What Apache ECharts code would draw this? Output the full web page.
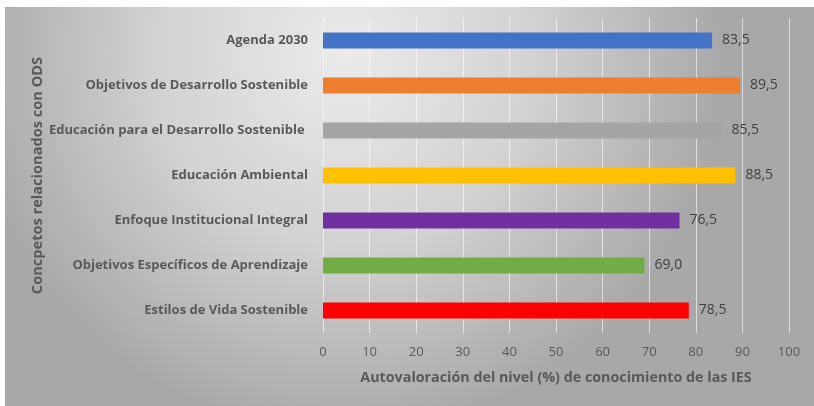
<!DOCTYPE html>
<html>
<head>
<meta charset="utf-8">
<script src="https://cdn.jsdelivr.net/npm/echarts@6/dist/echarts.min.js"></script>
<style>
  html, body { margin: 0; padding: 0; background: #fff; }
  #chart { position: absolute; left: 5px; top: 7px; width: 809px; height: 399px; }
</style>
</head>
<body>
<div id="chart"></div>
<script>
const categories = [
  "Agenda 2030",
  "Objetivos de Desarrollo Sostenible",
  "Educación para el Desarrollo Sostenible ",
  "Educación Ambiental",
  "Enfoque Institucional Integral",
  "Objetivos Específicos de Aprendizaje",
  "Estilos de Vida Sostenible",
];
const values = [83.5, 89.5, 85.5, 88.5, 76.5, 69.0, 78.5];
const colors = ["#4472C4", "#ED7D31", "#A5A5A5", "#FFC000", "#7030A0", "#70AD47", "#FF0000"];
const xTicks = [0, 10, 20, 30, 40, 50, 60, 70, 80, 90, 100];

const font = "'Open Sans', 'Noto Sans', sans-serif";
const chart = echarts.init(document.getElementById("chart"));

const option = {
  backgroundColor: new echarts.graphic.RadialGradient(0.42, 0.12, 0.95, [
    { offset: 0, color: "#ebebeb" },
    { offset: 0.5, color: "#d2d2d2" },
    { offset: 1, color: "#a8a8a8" },
  ]),
  animation: false,
  textStyle: { fontFamily: font },
  grid: { left: 318, right: 25, top: 11, bottom: 73 },
  xAxis: {
    type: "value",
    min: 0,
    max: 100,
    interval: 10,
    name: "Autovaloración del nivel (%) de conocimiento de las IES",
    nameLocation: "middle",
    nameGap: 38,
    nameMoveOverlap: false,
    nameTextStyle: { fontSize: 14.3, fontWeight: "bold", color: "#595959", fontFamily: font },
    axisLine: { show: false },
    axisTick: { show: false },
    axisLabel: {
      color: "#595959",
      fontSize: 13,
      margin: 13,
      fontFamily: font,
      formatter: (v) => (xTicks.includes(v) ? String(v) : ""),
    },
    splitLine: { show: true, lineStyle: { color: "rgba(255,255,255,0.6)", width: 1 } },
  },
  yAxis: {
    type: "category",
    inverse: true,
    data: categories,
    name: "Concpetos relacionados con ODS",
    nameLocation: "middle",
    nameGap: 278,
    nameRotate: 90,
    nameMoveOverlap: false,
    nameTextStyle: { fontSize: 14.6, fontWeight: "bold", color: "#595959", fontFamily: font },
    axisLine: { show: false },
    axisTick: { show: false },
    axisLabel: { color: "#595959", fontSize: 13, fontWeight: "bold", margin: 15, fontFamily: font },
  },
  series: [
    {
      type: "bar",
      barWidth: 16,
      data: values.map((v, i) => ({ value: v, itemStyle: { color: colors[i] } })),
      label: {
        show: true,
        position: "right",
        distance: 10,
        color: "#404040",
        fontSize: 14,
        fontFamily: font,
        formatter: (p) => p.value.toFixed(1).replace(".", ","),
      },
    },
  ],
};
chart.setOption(option);
</script>
</body>
</html>
